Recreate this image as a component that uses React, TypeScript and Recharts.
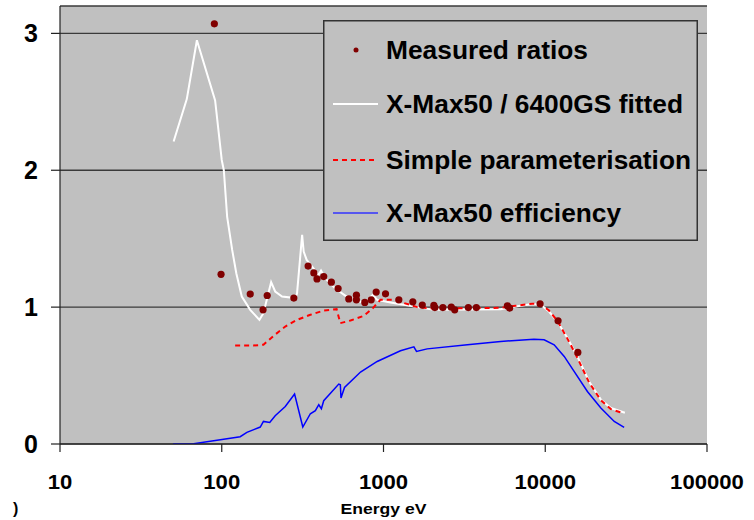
import React from 'react';
import { ComposedChart, Line, Scatter, XAxis, YAxis, CartesianGrid, Legend } from 'recharts';

const xTicks = [10, 100, 1000, 10000, 100000];
const yTicks = [0, 1, 2, 3];

const measuredEnergy = [90, 99, 150, 180, 191, 279, 342, 371, 388, 427, 476, 524, 610, 680, 680, 766, 839, 901, 1029, 1244, 1518, 1737, 2048, 2077, 2328, 2625, 2756, 3345, 3750, 5830, 6025, 9290, 12000, 15900];
const measuredRatio = [3.07, 1.24, 1.095, 0.98, 1.085, 1.066, 1.3, 1.25, 1.206, 1.223, 1.182, 1.136, 1.06, 1.053, 1.087, 1.034, 1.053, 1.11, 1.097, 1.053, 1.039, 1.015, 1.013, 0.997, 0.997, 1.0, 0.98, 0.997, 0.997, 1.01, 0.993, 1.024, 0.9, 0.669];

const fittedEnergy = [50.4, 60.8, 70.2, 91, 100, 103, 108, 116, 123, 133, 150, 171, 181, 202, 214, 236, 285, 292, 314, 321, 335, 397, 411, 437, 500, 582, 755, 859, 914, 1105, 1617, 2050, 5300, 6560, 8320, 9370, 10550, 11880, 13710, 15800, 18660, 22070, 25460, 31060];
const fittedRatio = [2.21, 2.52, 2.95, 2.51, 2.075, 2.0, 1.66, 1.418, 1.248, 1.077, 0.98, 0.907, 0.956, 1.182, 1.114, 1.077, 1.066, 1.1, 1.528, 1.406, 1.345, 1.236, 1.267, 1.21, 1.14, 1.083, 1.03, 1.09, 1.053, 1.034, 1.0, 0.98, 0.985, 1.004, 1.022, 1.017, 0.968, 0.895, 0.774, 0.64, 0.457, 0.324, 0.263, 0.228];

const paramEnergy = [121, 157, 181, 209, 247, 292, 353, 427, 513, 541, 625, 755, 860, 957, 1160, 1617, 2050, 5300, 6560, 8320, 9370, 10550, 11880, 13710, 15800, 18660, 22070, 25460, 30060];
const paramRatio = [0.72, 0.72, 0.725, 0.79, 0.858, 0.907, 0.944, 0.975, 0.985, 0.883, 0.902, 0.936, 0.993, 1.053, 1.053, 1.0, 0.99, 0.995, 1.01, 1.025, 1.02, 0.975, 0.9, 0.77, 0.63, 0.45, 0.32, 0.255, 0.226];

const effEnergy = [50, 67, 98, 130, 143, 173, 181, 198, 214, 247, 282, 317, 353, 379, 398, 413, 427, 529, 541, 546, 574, 721, 914, 1273, 1541, 1600, 1862, 3300, 5300, 8510, 9840, 11350, 13100, 15080, 18220, 22070, 26700, 30740];
const effValue = [0, 0.002, 0.031, 0.053, 0.085, 0.124, 0.165, 0.158, 0.207, 0.274, 0.365, 0.124, 0.221, 0.243, 0.287, 0.258, 0.316, 0.438, 0.433, 0.336, 0.413, 0.526, 0.603, 0.681, 0.71, 0.676, 0.695, 0.725, 0.749, 0.766, 0.761, 0.725, 0.64, 0.53, 0.384, 0.263, 0.165, 0.121];

const legendLabels = ['Measured ratios', 'X-Max50 / 6400GS fitted', 'Simple parameterisation', 'X-Max50 efficiency'];
const legendTextWidths = [202, 297, 305, 235];

const zip = (xs: number[], ys: number[]) => xs.map((x, i) => ({ x, y: ys[i] }));
const measured = zip(measuredEnergy, measuredRatio);
const fitted = zip(fittedEnergy, fittedRatio);
const param = zip(paramEnergy, paramRatio);
const eff = zip(effEnergy, effValue);

const FONT = '"Liberation Sans", Arial, sans-serif';

const renderLegend = () => {
  const rows = [30, 84, 140, 193];
  return (
    <svg width={375} height={221} style={{ display: 'block' }}>
      <rect x={0.75} y={0.75} width={373.5} height={219.5} fill="#c0c0c0" stroke="#333" strokeWidth={1.5} />
      <circle cx={33} cy={rows[0]} r={2.5} fill="#800000" />
      <line x1={10} x2={55} y1={rows[1]} y2={rows[1]} stroke="#ffffff" strokeWidth={2} />
      <line x1={10} x2={55} y1={rows[2]} y2={rows[2]} stroke="#ff0000" strokeWidth={2} strokeDasharray="5 4" />
      <line x1={10} x2={55} y1={rows[3]} y2={rows[3]} stroke="#3333ff" strokeWidth={1.5} />
      {legendLabels.map((t, i) => (
        <text
          key={t}
          x={63}
          y={rows[i]}
          dy="0.35em"
          fontFamily={FONT}
          fontWeight="bold"
          fontSize={25}
          fill="#000"
          textLength={legendTextWidths[i]}
          lengthAdjust="spacingAndGlyphs"
        >
          {t}
        </text>
      ))}
    </svg>
  );
};

const XTick = (props: any) => {
  const { x, y, payload } = props;
  const s = String(payload.value);
  return (
    <text x={x} y={y + 15} textAnchor="middle" fontFamily={FONT} fontWeight="bold" fontSize={21} fill="#000"
      textLength={s.length * 12.3} lengthAdjust="spacingAndGlyphs">
      {s}
    </text>
  );
};

const AxisTitle = (props: any) => {
  const vb = props.viewBox;
  return (
    <text x={vb.x + vb.width / 2} y={vb.y + vb.height - 6} textAnchor="middle" fontFamily={FONT} fontWeight="bold" fontSize={15}
      fill="#000" textLength={86} lengthAdjust="spacingAndGlyphs">
      Energy eV
    </text>
  );
};

const Dot = (props: any) => <circle cx={props.cx} cy={props.cy} r={3.6} fill="#800000" />;

export default function App() {
  return (
    <div style={{ position: 'absolute', left: 0, top: 0, width: 754, height: 520, background: '#fff' }}>
      <ComposedChart width={754} height={520} margin={{ top: 6, right: 47, bottom: 0, left: 0 }}>
        <CartesianGrid vertical={false} fill="#c0c0c0" stroke="#3a3a3a" strokeWidth={1.4} />
        <XAxis
          type="number"
          dataKey="x"
          scale="log"
          domain={[10, 100000]}
          ticks={xTicks}
          allowDataOverflow
          height={76}
          tickSize={8}
          tickMargin={22}
          axisLine={{ stroke: '#222', strokeWidth: 1.2 }}
          tickLine={{ stroke: '#222', strokeWidth: 1.2 }}
          tick={XTick}
          label={<AxisTitle />}
        />
        <YAxis
          type="number"
          dataKey="y"
          domain={[0, 3.2]}
          ticks={yTicks}
          allowDataOverflow
          width={60}
          tickSize={9}
          tickMargin={13}
          axisLine={{ stroke: '#222', strokeWidth: 1.2 }}
          tickLine={{ stroke: '#222', strokeWidth: 1.2 }}
          tick={{ fontFamily: FONT, fontWeight: 'bold', fontSize: 25, fill: '#000' }}
        />
        <Legend
          layout="vertical"
          align="center"
          verticalAlign="middle"
          content={renderLegend}
          wrapperStyle={{ position: 'absolute', left: 323, top: 20, width: 375, height: 221 }}
        />
        <Line data={fitted} dataKey="y" type="linear" stroke="#ffffff" strokeWidth={2} dot={false} activeDot={false} isAnimationActive={false} />
        <Line data={param} dataKey="y" type="linear" stroke="#ff0000" strokeWidth={2} strokeDasharray="5 4" dot={false} activeDot={false} isAnimationActive={false} />
        <Line data={eff} dataKey="y" type="linear" stroke="#0000ff" strokeWidth={1.5} dot={false} activeDot={false} isAnimationActive={false} />
        <Scatter data={measured} dataKey="y" shape={Dot} isAnimationActive={false} />
      </ComposedChart>
      <div style={{ position: 'absolute', left: 13, top: 500, fontFamily: FONT, fontWeight: 'bold', fontSize: 16 }}>)</div>
    </div>
  );
}
